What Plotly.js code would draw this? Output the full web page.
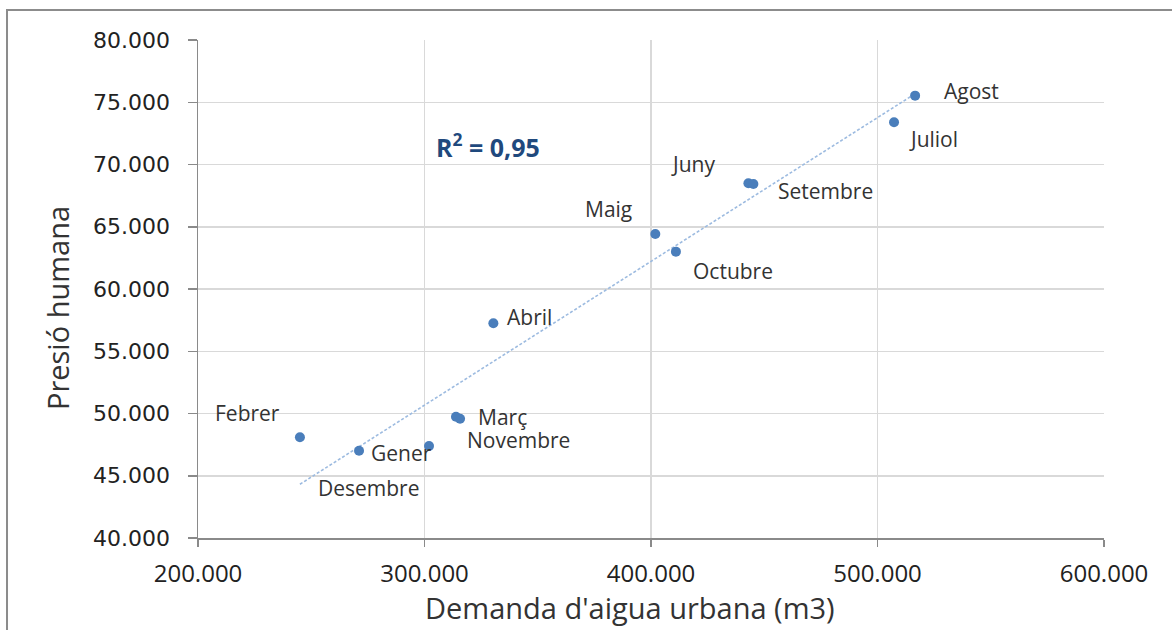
<!DOCTYPE html>
<html>
<head>
<meta charset="utf-8">
<script src="https://cdn.plot.ly/plotly-3.0.1.min.js"></script>
<style>
  html, body { margin: 0; padding: 0; background: #fff; }
  #chart { width: 1172px; height: 630px; }
</style>
</head>
<body>
<div id="chart"></div>
<script>
// ---- Data ----
const months = ["Gener", "Febrer", "Març", "Abril", "Maig", "Juny", "Juliol", "Agost", "Setembre", "Octubre", "Novembre", "Desembre"];
const demanda = [271100, 245000, 313900, 330400, 401900, 443000, 507300, 516600, 445200, 411000, 315700, 302000];
const presio  = [47010, 48090, 49740, 57250, 64420, 68490, 73390, 75530, 68430, 63000, 49580, 47390];
const xTicks = [200000, 300000, 400000, 500000, 600000];
const yTicks = [40000, 45000, 50000, 55000, 60000, 65000, 70000, 75000, 80000];
const r2Text = "R<sup>2</sup> = 0,95";
const xTitle = "Demanda d'aigua urbana (m3)";
const yTitle = "Presió humana";

// label pixel offsets (layout only)
const labelShift = {
  "Gener": [42, -2], "Febrer": [-52, 24], "Març": [47, 0], "Abril": [36, 6],
  "Maig": [-47, 25], "Juny": [-55, 19], "Juliol": [39, -17], "Agost": [56, 5],
  "Setembre": [72, -7], "Octubre": [57, -19], "Novembre": [58, -21], "Desembre": [-60, -42]
};

// linear least-squares trendline (as Excel does)
const n = demanda.length;
const mx = demanda.reduce((a, b) => a + b, 0) / n;
const my = presio.reduce((a, b) => a + b, 0) / n;
let sxy = 0, sxx = 0;
for (let i = 0; i < n; i++) { sxy += (demanda[i] - mx) * (presio[i] - my); sxx += (demanda[i] - mx) ** 2; }
const slope = sxy / sxx, icpt = my - slope * mx;
const xMin = Math.min(...demanda), xMax = Math.max(...demanda);
const trendX = [xMin, xMax];
const trendY = trendX.map(v => icpt + slope * v);

const labelFont = { family: "Open Sans, sans-serif", size: 21, color: "#333" };
const titleFont = { family: "Open Sans, sans-serif", size: 29, color: "#333" };

const annotations = months.map((m, i) => ({
  x: demanda[i], y: presio[i], xref: "x", yref: "y",
  text: m, showarrow: false, font: labelFont,
  xshift: labelShift[m][0], yshift: labelShift[m][1]
}));
annotations.push({
  x: 328000, y: 71500, xref: "x", yref: "y", text: r2Text, showarrow: false,
  font: { family: "Open Sans, sans-serif", size: 25, color: "#1F497D", weight: "bold" }
});
// axis titles
annotations.push({
  x: 0.4768, y: -0.1386, xref: "paper", yref: "paper", text: xTitle, showarrow: false,
  xanchor: "center", yanchor: "middle", font: titleFont
});
annotations.push({
  x: -0.1556, y: 0.4618, xref: "paper", yref: "paper", text: yTitle, showarrow: false,
  textangle: -90, xanchor: "center", yanchor: "middle", font: titleFont
});

const traces = [
  {
    x: trendX, y: trendY, mode: "lines", type: "scatter",
    line: { color: "#9DBBE0", width: 1.6, dash: "3px,2px" },
    hoverinfo: "skip"
  },
  {
    x: demanda, y: presio, mode: "markers", type: "scatter",
    marker: { color: "#4A7EBB", size: 10 },
    text: months
  }
];

const axisCommon = {
  showgrid: true, gridcolor: "#D9D9D9", gridwidth: 1.5,
  showline: true, linecolor: "#8A8A8A", linewidth: 1.5,
  ticks: "outside", tickcolor: "#8A8A8A", tickwidth: 1.5,
  zeroline: false, tickformat: ",d"
};

const layout = {
  width: 1172, height: 630,
  margin: { l: 198, r: 68, t: 40, b: 92 },
  paper_bgcolor: "#fff", plot_bgcolor: "#fff",
  separators: ",.",
  showlegend: false,
  xaxis: Object.assign({}, axisCommon, {
    range: [200000, 600000], tickvals: xTicks, ticklen: 7,
    tickfont: { family: "Open Sans, sans-serif", size: 24, color: "#222" },
    ticklabelstandoff: 7
  }),
  yaxis: Object.assign({}, axisCommon, {
    range: [40000, 80000], tickvals: yTicks, ticklen: 9,
    tickfont: { family: "DejaVu Sans, sans-serif", size: 22, color: "#222" },
    ticklabelstandoff: 13
  }),
  annotations: annotations,
  shapes: [{
    type: "rect", xref: "paper", yref: "paper",
    x0: -0.2108, x1: 1.2, y0: -0.4, y1: 1.0602,
    line: { color: "#8C8C8C", width: 2 }, fillcolor: "rgba(0,0,0,0)", layer: "below"
  }]
};

Plotly.newPlot("chart", traces, layout, { displayModeBar: false, staticPlot: true });
</script>
</body>
</html>
